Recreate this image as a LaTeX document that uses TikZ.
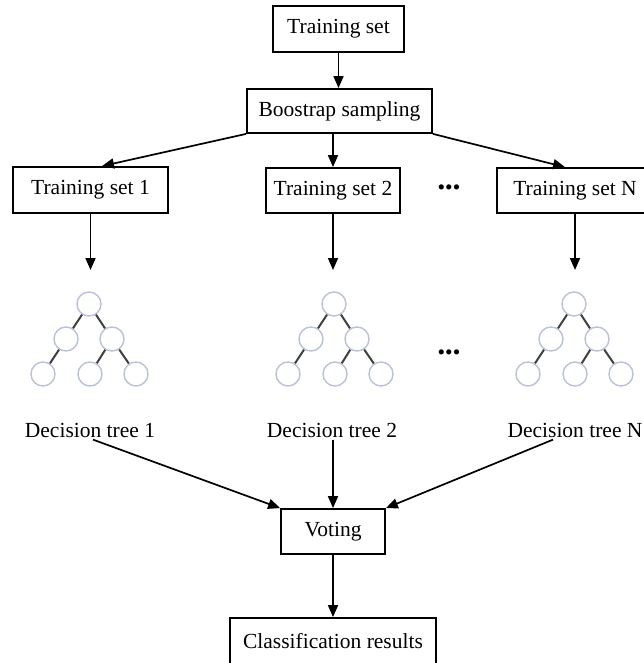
\documentclass[tikz,border=0pt]{standalone}
\usepackage{fontspec}
\setmainfont{Liberation Serif}
\usetikzlibrary{arrows.meta}
\definecolor{nodeblue}{RGB}{186,194,216}

\tikzset{
	box/.style={draw, line width=0.9pt, inner sep=0pt, minimum height=22.5pt},
	arr/.style={line width=0.85pt, -{Triangle[length=6pt,width=5pt]}},
	leaf/.style={circle, draw=nodeblue, line width=0.7pt, minimum size=12pt, inner sep=0pt},
	branch/.style={black!75, line width=1pt},
	lbl/.style={inner sep=1pt}
}

\begin{document}
\begin{tikzpicture}[x=0.5pt, y=-0.5pt, font=\fontsize{10.75}{13}\selectfont]
	\useasboundingbox (0,0) rectangle (643,663);
	% data and resampling
	\node[box, minimum width=65.5pt, minimum height=23pt] (ts) at (338.5,29) {Training set};
	\node[box, minimum width=92.5pt, minimum height=22pt] (bs) at (339.5,111) {Boostrap sampling};
	% bags
	\node[box, minimum width=77.5pt, minimum height=23pt] (ts1) at (90.5,190) {Training set 1};
	\node[box, minimum width=67pt] (ts2) at (333,190.5) {Training set 2};
	\node[box, minimum width=78pt] (tsN) at (575,190.5) {Training set N};
	\node (dots1) at (449,190) {\textbullet\textbullet\textbullet};
	\draw[arr] (ts.south) -- (ts.south |- bs.north);
	\draw[arr] (bs.south west) -- ([xshift=5.75pt]ts1.north);
	\draw[arr] (ts2.north |- bs.south) -- (ts2.north);
	\draw[arr] (bs.south east) -- ([xshift=-5pt]tsN.north);
	% trees
	\coordinate (in1) at (90.5,270);
	\coordinate (in2) at (333,270);
	\coordinate (inN) at (575,270);
	\draw[arr] (ts1) -- (in1);
	\draw[arr] (ts2) -- (in2);
	\draw[arr] (tsN) -- (inN);
	\foreach \t/\x in {1/89, 2/334, N/574} {
		\node[leaf] (r\t) at (\x,304) {};
		\node[leaf] (a\t) at (\x-23,339) {};
		\node[leaf] (b\t) at (\x+23,339) {};
		\node[leaf] (c\t) at (\x-46,374) {};
		\node[leaf] (d\t) at (\x+1,374) {};
		\node[leaf] (e\t) at (\x+47,374) {};
		\draw[branch] (r\t) -- (a\t) (r\t) -- (b\t) (a\t) -- (c\t) (b\t) -- (d\t) (b\t) -- (e\t);
	}
	\node (dots2) at (449,355) {\textbullet\textbullet\textbullet};
	\node[lbl] (dt1) at (90,430) {Decision tree 1};
	\node[lbl] (dt2) at (332,430) {Decision tree 2};
	\node[lbl] (dtN) at (575,430) {Decision tree N};
	% voting
	\node[box, minimum width=52pt] (vote) at (333,531.5) {Voting};
	\node[box, minimum width=103pt, minimum height=23pt] (res) at (333,641) {Classification results};
	\draw[arr] ([xshift=1.5pt]dt1.south) -- (vote.north west);
	\draw[arr] (dt2.south -| vote.north) -- (vote.north);
	\draw[arr] ([xshift=-11pt]dtN.south) -- (vote.north east);
	\draw[arr] (vote) -- (res);
\end{tikzpicture}
\end{document}
